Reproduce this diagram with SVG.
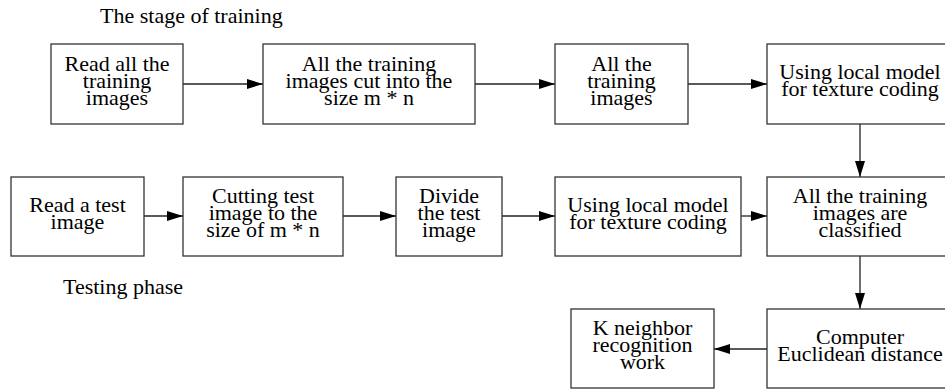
<svg xmlns="http://www.w3.org/2000/svg" width="945" height="389" viewBox="0 0 945 389">
<style>
rect.b{fill:#fff;stroke:#333;stroke-width:1.3}
.t{font-family:'Liberation Serif','DejaVu Serif',serif;font-size:22px;fill:#000}
.l{stroke:#222;stroke-width:1.3;fill:none}
</style>
<defs>
<marker id="ah" markerUnits="userSpaceOnUse" markerWidth="16" markerHeight="10" refX="16" refY="5" orient="auto">
<path d="M0,0 L16,5 L0,10 z" fill="#000"/>
</marker>
</defs>
<rect width="945" height="389" fill="#fff"/>
<g class="t">
<text x="100" y="23">The stage of training</text>
<text x="63" y="294">Testing phase</text>
</g>
<g id="connectors">
<line class="l" x1="183" y1="84" x2="263" y2="84" marker-end="url(#ah)"/>
<line class="l" x1="475" y1="84" x2="555" y2="84" marker-end="url(#ah)"/>
<line class="l" x1="688" y1="84" x2="767" y2="84" marker-end="url(#ah)"/>
<line class="l" x1="860" y1="124" x2="860" y2="177" marker-end="url(#ah)"/>
<line class="l" x1="144" y1="216" x2="183" y2="216" marker-end="url(#ah)"/>
<line class="l" x1="343" y1="216" x2="396" y2="216" marker-end="url(#ah)"/>
<line class="l" x1="502" y1="216" x2="555" y2="216" marker-end="url(#ah)"/>
<line class="l" x1="741" y1="216" x2="767" y2="216" marker-end="url(#ah)"/>
<line class="l" x1="860" y1="256" x2="860" y2="309" marker-end="url(#ah)"/>
<line class="l" x1="767" y1="349" x2="714" y2="349" marker-end="url(#ah)"/>
</g>
<g class="t" text-anchor="middle">
<g id="n1"><rect class="b" x="51" y="44" width="132" height="80"/>
<text x="117" y="71">Read all the</text><text x="117" y="88">training</text><text x="117" y="105">images</text></g>
<g id="n2"><rect class="b" x="263" y="44" width="212" height="80"/>
<text x="369" y="71">All the training</text><text x="369" y="88">images cut into the</text><text x="369" y="105">size m * n</text></g>
<g id="n3"><rect class="b" x="555" y="44" width="133" height="80"/>
<text x="621.5" y="71">All the</text><text x="621.5" y="88">training</text><text x="621.5" y="105">images</text></g>
<g id="n4"><rect class="b" x="767" y="44" width="186" height="80"/>
<text x="860" y="79">Using local model</text><text x="860" y="96">for texture coding</text></g>
<g id="n5"><rect class="b" x="11" y="177" width="133" height="79"/>
<text x="77.5" y="212">Read a test</text><text x="77.5" y="229">image</text></g>
<g id="n6"><rect class="b" x="183" y="177" width="160" height="79"/>
<text x="263" y="203">Cutting test</text><text x="263" y="220">image to the</text><text x="263" y="237">size of m * n</text></g>
<g id="n7"><rect class="b" x="396" y="177" width="106" height="79"/>
<text x="449" y="203">Divide</text><text x="449" y="220">the test</text><text x="449" y="237">image</text></g>
<g id="n8"><rect class="b" x="555" y="177" width="186" height="79"/>
<text x="648" y="212">Using local model</text><text x="648" y="229">for texture coding</text></g>
<g id="n9"><rect class="b" x="767" y="177" width="186" height="79"/>
<text x="860" y="203">All the training</text><text x="860" y="220">images are</text><text x="860" y="237">classified</text></g>
<g id="n10"><rect class="b" x="767" y="309" width="186" height="79"/>
<text x="860" y="344">Computer</text><text x="860" y="361">Euclidean distance</text></g>
<g id="n11"><rect class="b" x="571" y="309" width="143" height="79"/>
<text x="642.5" y="335">K neighbor</text><text x="642.5" y="352">recognition</text><text x="642.5" y="369">work</text></g>
</g>
</svg>
